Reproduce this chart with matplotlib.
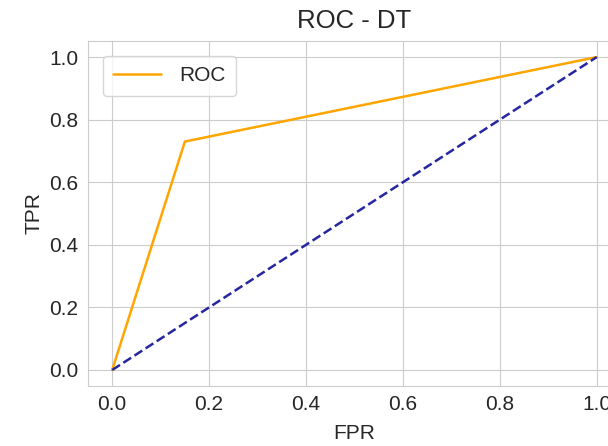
import matplotlib
matplotlib.use("Agg")
import matplotlib.pyplot as plt
import seaborn as sns

# roc curve values
fpr = [0.0, 0.15, 1.0]
tpr = [0.0, 0.73, 1.0]
diag = [0.0, 1.0]

sns.set_style("whitegrid")
plt.rcParams['font.family'] = ['Liberation Sans', 'DejaVu Sans']

fig = plt.figure(figsize=(6.08, 4.46), dpi=100)
ax = fig.add_axes([0.1447, 0.1354, 0.8766, 0.7717])

ax.plot(fpr, tpr, color='orange', lw=1.8, label='ROC')
ax.plot(diag, diag, color='#2626a0', lw=1.8, linestyle='--')

ax.set_xticks([0.0, 0.2, 0.4, 0.6, 0.8, 1.0])
ax.set_yticks([0.0, 0.2, 0.4, 0.6, 0.8, 1.0])
ax.tick_params(labelsize=15, colors='#262626')
ax.set_xlabel('FPR', fontsize=15, color='#262626', labelpad=7)
ax.set_ylabel('TPR', fontsize=15, color='#262626')
ax.set_title('ROC - DT', fontsize=18.5, color='#262626', pad=10)
ax.legend(loc='upper left', fontsize=15, handlelength=2.3, handletextpad=0.9,
          borderaxespad=0.7, borderpad=0.5)

fig.savefig('out.png', dpi=100)
